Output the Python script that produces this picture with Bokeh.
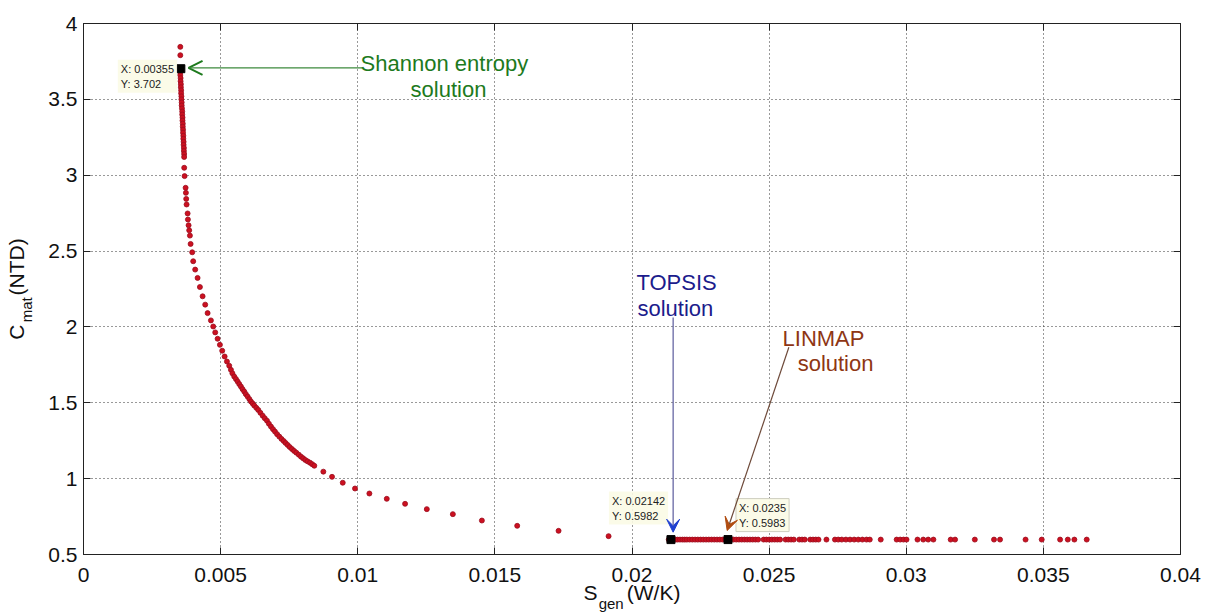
from bokeh.plotting import figure
from bokeh.models import (Range1d, FixedTicker, LinearAxis, Label, Arrow,
                          VeeHead, OpenHead, ColumnDataSource)
from bokeh.embed import file_html
from bokeh.resources import INLINE

# ---------------- data ----------------
# upper, nearly vertical branch (S_gen [W/K], C_mat [NTD])
upper_branch = [
    (0.00353, 3.846), (0.00353, 3.791), (0.00355, 3.702), (0.00353, 3.68),
    (0.00353, 3.66), (0.00354, 3.64), (0.00354, 3.62), (0.00355, 3.60),
    (0.00355, 3.58), (0.00356, 3.56), (0.00356, 3.54), (0.00357, 3.52),
    (0.00357, 3.50), (0.00358, 3.48), (0.00358, 3.46), (0.00359, 3.44),
    (0.00360, 3.42), (0.00360, 3.40), (0.00361, 3.38), (0.00361, 3.36),
    (0.00362, 3.34), (0.00362, 3.32), (0.00363, 3.30), (0.00363, 3.28),
    (0.00364, 3.26), (0.00364, 3.24), (0.00365, 3.22), (0.00365, 3.20),
    (0.00366, 3.18), (0.00366, 3.16), (0.00367, 3.14), (0.00367, 3.12),
]
knee_branch = [
    (0.003672, 3.049), (0.003686, 2.994), (0.003723, 2.917), (0.003734, 2.884),
    (0.003745, 2.844), (0.003759, 2.807), (0.003796, 2.748), (0.003807, 2.708),
    (0.003832, 2.670), (0.003854, 2.637), (0.003880, 2.602), (0.003905, 2.547),
    (0.003964, 2.492), (0.004000, 2.433), (0.004073, 2.378), (0.004160, 2.323),
    (0.004245, 2.263), (0.004343, 2.202), (0.004438, 2.147), (0.004525, 2.091),
    (0.004646, 2.043), (0.004730, 2.003), (0.004803, 1.964), (0.004890, 1.922),
    (0.004974, 1.882), (0.005058, 1.843), (0.005146, 1.805), (0.005230, 1.772),
    (0.005314, 1.744), (0.005376, 1.717),
]
middle_branch = [
    (0.00543, 1.694), (0.005496, 1.673), (0.00556, 1.656), (0.00562, 1.640),
    (0.00568, 1.623), (0.00574, 1.607), (0.00580, 1.590), (0.005861, 1.574),
    (0.00592, 1.557), (0.005985, 1.541), (0.00605, 1.524), (0.006106, 1.508),
    (0.00617, 1.495), (0.006226, 1.482), (0.00630, 1.467), (0.006372, 1.453),
    (0.00645, 1.434), (0.006533, 1.415), (0.00661, 1.398), (0.00669, 1.382),
    (0.00676, 1.362), (0.006836, 1.343), (0.00691, 1.326), (0.006982, 1.310),
    (0.00706, 1.293), (0.007139, 1.277), (0.00722, 1.262), (0.00730, 1.248),
    (0.00737, 1.235), (0.007445, 1.222), (0.00752, 1.208), (0.007602, 1.195),
    (0.00768, 1.183), (0.00776, 1.171), (0.00785, 1.158), (0.007931, 1.145),
    (0.00801, 1.134), (0.008088, 1.123), (0.00817, 1.114), (0.00826, 1.105),
    (0.00834, 1.095), (0.008416, 1.085),
]
sparse_branch = [
    (0.008745, 1.046), (0.009062, 1.012), (0.009453, 0.973), (0.009900, 0.935),
    (0.010424, 0.902), (0.011058, 0.867), (0.011726, 0.834), (0.012518, 0.799),
    (0.013467, 0.766), (0.014526, 0.724), (0.015814, 0.689), (0.017322, 0.656),
    (0.019146, 0.621),
]
tail_branch = [
    (0.02134, 0.5982), (0.02142, 0.5982), (0.02150, 0.5982), (0.02158, 0.5982),
    (0.02166, 0.5982), (0.02175, 0.5982), (0.02184, 0.5982), (0.02192, 0.5982),
    (0.02200, 0.5982), (0.02210, 0.5982), (0.02220, 0.5982), (0.02230, 0.5982),
    (0.02240, 0.5982), (0.02250, 0.5982), (0.02260, 0.5982), (0.02270, 0.5982),
    (0.02280, 0.5983), (0.02290, 0.5983), (0.02300, 0.5983), (0.02310, 0.5983),
    (0.02320, 0.5983), (0.02330, 0.5983), (0.02340, 0.5983), (0.02350, 0.5983),
    (0.02370, 0.5983), (0.02380, 0.5983), (0.02390, 0.5983), (0.02400, 0.5983),
    (0.02410, 0.5983), (0.02420, 0.5983), (0.02430, 0.5983), (0.02440, 0.5983),
    (0.02450, 0.5983), (0.02460, 0.5983), (0.02480, 0.5983), (0.02490, 0.5983),
    (0.02500, 0.5983), (0.02510, 0.5983), (0.02520, 0.5983), (0.02530, 0.5983),
    (0.02540, 0.5983), (0.02560, 0.5983), (0.02570, 0.5983), (0.02580, 0.5983),
    (0.02590, 0.5983), (0.02610, 0.5983), (0.02620, 0.5983), (0.02630, 0.5983),
    (0.02650, 0.5983), (0.02660, 0.5983), (0.02670, 0.5983), (0.02680, 0.5983),
    (0.02709, 0.5983), (0.02740, 0.5983), (0.02752, 0.5983), (0.02765, 0.5983),
    (0.02780, 0.5983), (0.02795, 0.5983), (0.02810, 0.5983), (0.02825, 0.5983),
    (0.02840, 0.5983), (0.02855, 0.5983), (0.02867, 0.5983), (0.02907, 0.5983),
    (0.02965, 0.5983), (0.02978, 0.5983), (0.02990, 0.5983), (0.03001, 0.5983),
    (0.03041, 0.5983), (0.03062, 0.5983), (0.03080, 0.5983), (0.03099, 0.5983),
    (0.03162, 0.5983), (0.03178, 0.5983), (0.03250, 0.5983), (0.03320, 0.5983),
    (0.03342, 0.5983), (0.03435, 0.5983), (0.03494, 0.5983), (0.03561, 0.5983),
    (0.03589, 0.5983), (0.03613, 0.5983), (0.03658, 0.5983),
]

# selected solutions
solution_names = ["Shannon entropy", "TOPSIS", "LINMAP"]
solution_x = [0.00355, 0.02142, 0.0235]
solution_y = [3.702, 0.5982, 0.5983]
solution_tips = ["X: 0.00355\nY: 3.702", "X: 0.02142\nY: 0.5982", "X: 0.0235\nY: 0.5983"]

# axes
x_ticks = [0, 0.005, 0.01, 0.015, 0.02, 0.025, 0.03, 0.035, 0.04]
x_tick_labels = ["0", "0.005", "0.01", "0.015", "0.02", "0.025", "0.03", "0.035", "0.04"]
y_ticks = [0.5, 1, 1.5, 2, 2.5, 3, 3.5, 4]
y_tick_labels = ["0.5", "1", "1.5", "2", "2.5", "3", "3.5", "4"]

# ---------------- figure ----------------
FONT = "Liberation Sans"
NB = "\u00a0"

p = figure(width=1210, height=615, x_range=Range1d(0, 0.04), y_range=Range1d(0.5, 4),
           output_backend="svg", toolbar_location=None,
           min_border_left=83, min_border_right=30, min_border_top=23, min_border_bottom=61)
p.background_fill_color = "white"
p.border_fill_color = "white"
p.outline_line_color = "#222222"
p.outline_line_width = 1

p.xaxis.ticker = FixedTicker(ticks=x_ticks)
p.yaxis.ticker = FixedTicker(ticks=y_ticks)
p.xaxis.major_label_overrides = {t: l for t, l in zip(x_ticks, x_tick_labels)}
p.yaxis.major_label_overrides = {t: l for t, l in zip(y_ticks, y_tick_labels)}
for ax in (p.xaxis, p.yaxis):
    ax.major_label_text_font = FONT
    ax.major_label_text_font_size = "21px"
    ax.major_label_text_color = "#111111"
    ax.axis_line_color = "#222222"
    ax.major_tick_line_color = "#222222"
    ax.major_tick_in = 7
    ax.major_tick_out = 0
    ax.minor_tick_line_color = None
p.xaxis.major_label_standoff = 13
p.yaxis.major_label_standoff = 6

# tick marks on the top and right edges (minor ticks only, no labels)
for loc, ticks in (("above", x_ticks), ("right", y_ticks)):
    p.add_layout(LinearAxis(ticker=FixedTicker(ticks=[], minor_ticks=ticks),
                            axis_line_color="#222222", major_tick_line_color=None,
                            minor_tick_line_color="#222222", minor_tick_in=7,
                            minor_tick_out=0, major_tick_out=0, major_tick_in=0,
                            major_label_standoff=0), loc)

# axis titles with subscripts, built from stacked label-only axes
def title_axis(loc, text, size, standoff):
    p.add_layout(LinearAxis(ticker=FixedTicker(ticks=[]), axis_label=text,
                            axis_label_text_font=FONT, axis_label_text_font_size=size,
                            axis_label_text_font_style="normal",
                            axis_label_text_color="#111111",
                            axis_label_standoff=standoff,
                            axis_line_color=None, major_tick_line_color=None,
                            minor_tick_line_color=None, major_tick_out=0, minor_tick_out=0,
                            major_tick_in=0, minor_tick_in=0, major_label_standoff=0), loc)

title_axis("left", "mat" + NB * 10, "15px", 11)
title_axis("left", "C" + NB * 5 + "(NTD)", "21px", -13)
title_axis("below", "S" + NB * 5 + "(W/K)", "21px", -4)
title_axis("below", "gen" + NB * 10, "15px", -12)

p.xgrid.ticker = FixedTicker(ticks=x_ticks[1:-1])
p.ygrid.ticker = FixedTicker(ticks=y_ticks[1:-1])
for g in (p.xgrid, p.ygrid):
    g.grid_line_color = "#333333"
    g.grid_line_dash = "1 3"
    g.grid_line_width = 1

# ---------------- points ----------------
all_points = upper_branch + knee_branch + middle_branch + sparse_branch + tail_branch
src = ColumnDataSource(data=dict(x=[pt[0] for pt in all_points],
                                 y=[pt[1] for pt in all_points]))
p.scatter("x", "y", source=src, marker="circle", size=5,
          fill_color="#cc1020", line_color="#9a0e1e", line_width=0.8)

p.scatter(solution_x, solution_y, marker="square", size=8,
          fill_color="black", line_color="black")

# ---------------- data tips ----------------
tip_offsets = [(-63, 9), (-62, 48), (8, 41)]
for sx, sy, txt, (dx, dy), border in zip(solution_x, solution_y, solution_tips, tip_offsets,
                                          [None, None, "#cfcfbf"]):
    p.add_layout(Label(x=sx, y=sy, x_offset=dx, y_offset=dy, text=txt,
                       text_font=FONT, text_font_size="11px", text_color="#222222",
                       text_align="left", text_baseline="top", text_line_height=1.25,
                       background_fill_color="#fbfbe6", background_fill_alpha=0.9,
                       border_line_color=border, padding=3))

# ---------------- annotations ----------------
GREEN = "#1d7a1d"
BLUE = "#1c1c8c"
BROWN = "#8e3614"

def txt(x, y, s, color, align):
    p.add_layout(Label(x=x, y=y, text=s, text_font=FONT, text_font_size="22px",
                       text_color=color, text_align=align, text_baseline="alphabetic"))

txt(0.01316, 3.736, "Shannon entropy", GREEN, "center")
txt(0.01331, 3.565, "solution", GREEN, "center")
txt(0.02016, 2.293, "TOPSIS", BLUE, "left")
txt(0.02020, 2.1215, "solution", BLUE, "left")
txt(0.02549, 1.924, "LINMAP", BROWN, "left")
txt(0.02604, 1.759, "solution", BROWN, "left")

p.add_layout(Arrow(x_start=0.01017, y_start=3.708, x_end=0.00383, y_end=3.708,
                   line_color="#3d8a3d", line_width=1.2,
                   end=OpenHead(size=14, line_color=GREEN, line_width=2)))
p.add_layout(Arrow(x_start=0.02150, y_start=2.062, x_end=0.02150, y_end=0.647,
                   line_color="#5a5a9c", line_width=1.2,
                   end=VeeHead(size=13, fill_color="#2040d0", line_color="#2040d0")))
p.add_layout(Arrow(x_start=0.02572, y_start=1.866, x_end=0.02347, y_end=0.658,
                   line_color="#6e4a3a", line_width=1.2,
                   end=VeeHead(size=13, fill_color="#b04c10", line_color="#b04c10")))

open("out.html", "w").write(file_html(p, INLINE))
